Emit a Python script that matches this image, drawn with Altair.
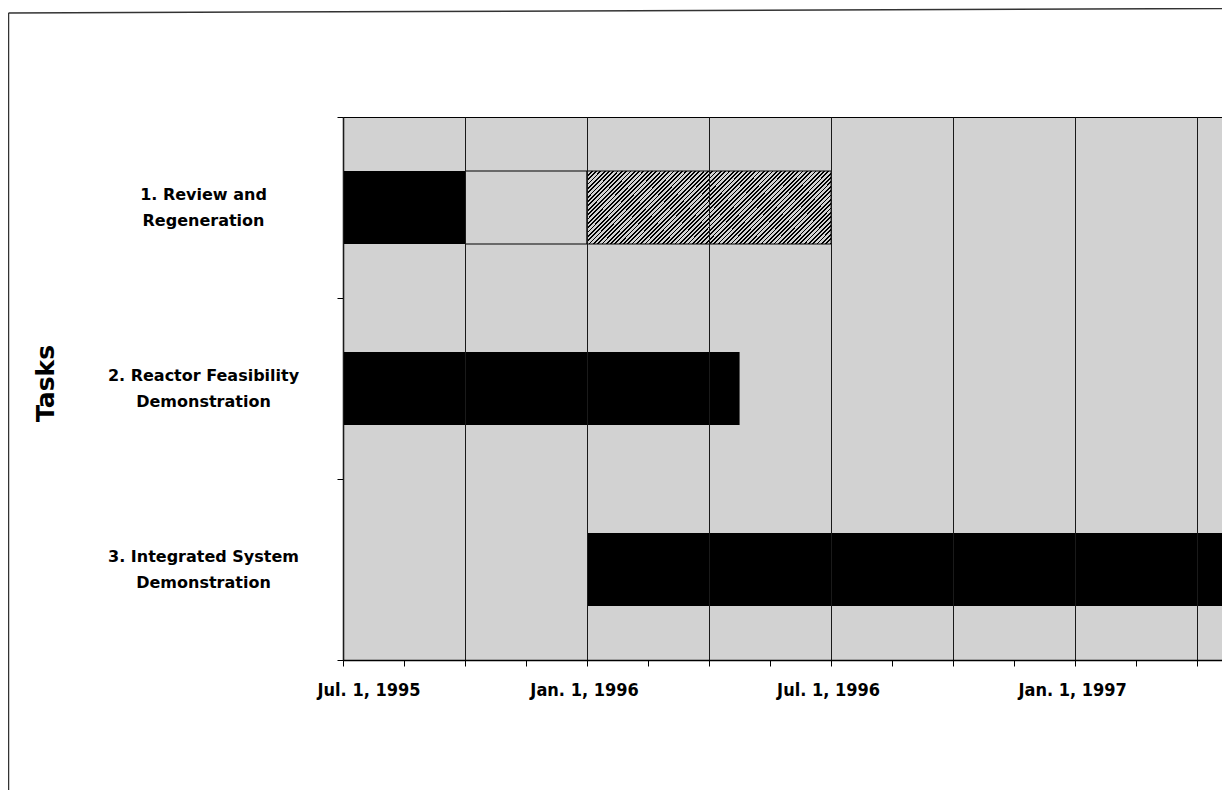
import altair as alt
import pandas as pd

tasks = [
    "1. Review and\nRegeneration",
    "2. Reactor Feasibility\nDemonstration",
    "3. Integrated System\nDemonstration",
]

# months since Jul. 1, 1995
seg_task = [0, 0, 0, 1, 2]
seg_start = [0, 3, 6, 0, 6]
seg_end = [3, 6, 12, 9.75, 21.61]
seg_kind = ["complete", "outline", "hatched", "complete", "complete"]

x_max = 21.61
tick_months = [0, 1.5, 3, 4.5, 6, 7.5, 9, 10.5, 12, 13.5, 15, 16.5, 18, 19.5, 21]
label_months = [0, 6, 12, 18]
label_texts = ["Jul. 1, 1995", "Jan. 1, 1996", "Jul. 1, 1996", "Jan. 1, 1997"]

df = pd.DataFrame({
    "task": [tasks[i] for i in seg_task],
    "start": seg_start,
    "end": seg_end,
    "kind": seg_kind,
})

label_expr = "".join(
    f"datum.value === {m} ? '{t}' : " for m, t in zip(label_months, label_texts)
) + "''"

BG = "#d2d2d2"

# diagonal hatch built as a striped linear gradient
P = 0.01351
stops = []
i = 0
while i * P < 1:
    s = i * P
    e = min(s + 0.42 * P, 1)
    n = min(s + P, 1)
    stops += [
        {"offset": s, "color": "black"},
        {"offset": e, "color": "black"},
        {"offset": e, "color": BG},
        {"offset": n, "color": BG},
    ]
    i += 1
hatch = {"gradient": "linear", "x1": 0, "y1": 0, "x2": 1.2, "y2": 0.354, "stops": stops}

x_enc = alt.X(
    "start:Q",
    scale=alt.Scale(domain=[0, x_max], nice=False, zero=False),
    axis=alt.Axis(
        values=tick_months,
        labelExpr=label_expr,
        labelFont="Liberation Sans Narrow, Arial Narrow, DejaVu Sans Condensed, Roboto Condensed, Liberation Sans",
        labelFontWeight="bold",
        labelFontSize=18,
        labelColor="black",
        labelPadding=15,
        labelOffset={"condition": {"test": "datum.value === 0", "value": -26}, "value": -3},
        tickSize=6,
        tickColor="black",
        tickWidth=1,
        domainColor="black",
        domainWidth=1.5,
        grid=True,
        gridColor="#1a1a1a",
        gridWidth=1,
        gridOpacity={"condition": {"test": "datum.value % 3 === 0", "value": 1}, "value": 0},
        zindex=1,
        title=None,
    ),
)
y_enc = alt.Y(
    "task:N",
    scale=alt.Scale(domain=tasks, paddingInner=0, paddingOuter=0),
    axis=alt.Axis(
        labelExpr="split(datum.label, '\\n')",
        labelAlign="center",
        labelBaseline="middle",
        labelPadding=134,
        labelOffset=-13,
        labelLimit=400,
        labelFont="DejaVu Sans",
        labelFontWeight="bold",
        labelFontSize=16,
        labelLineHeight=26,
        labelColor="black",
        tickBand="extent",
        tickSize=6,
        tickColor="black",
        domainColor="black",
        domainWidth=1.5,
        grid=False,
        title="Tasks",
        titleFont="DejaVu Sans",
        titleFontWeight="bold",
        titleFontSize=25,
        titleColor="black",
        titleAngle=270,
        titleAlign="center",
        titleBaseline="alphabetic",
        titleX=-290,
        titleY=266,
    ),
)

base = alt.Chart(df).encode(x=x_enc, x2="end:Q", y=y_enc)

complete = base.transform_filter("datum.kind === 'complete'").mark_bar(
    color="black", size=73
)
outline = base.transform_filter("datum.kind === 'outline'").mark_bar(
    fillOpacity=0, stroke="black", strokeWidth=1, size=73
)
hatched = base.transform_filter("datum.kind === 'hatched'").mark_bar(
    fill=hatch, stroke="black", strokeWidth=1, size=73
)

frame_data = alt.Data(values=[{"f": 1}])
frame_left = alt.Chart(frame_data).mark_rule(color="#333333", strokeWidth=1.5).encode(
    x=alt.value(-334.5), y=alt.value(-104), y2=alt.value(673)
)
frame_top = alt.Chart(frame_data).mark_rule(color="#333333", strokeWidth=1.5).encode(
    x=alt.value(-334.5), x2=alt.value(879), y=alt.value(-104), y2=alt.value(-108.5)
)

chart = (
    alt.layer(complete, outline, hatched, frame_left, frame_top)
    .properties(
        width=879,
        height=543,
        autosize=alt.AutoSizeParams(type="none"),
        padding={"left": 335, "top": 109, "right": 0, "bottom": 130},
    )
    .configure(background="white")
    .configure_view(fill=BG, stroke="black", strokeWidth=1)
)

chart.save("out.html", embed_options={"renderer": "svg", "actions": False})
